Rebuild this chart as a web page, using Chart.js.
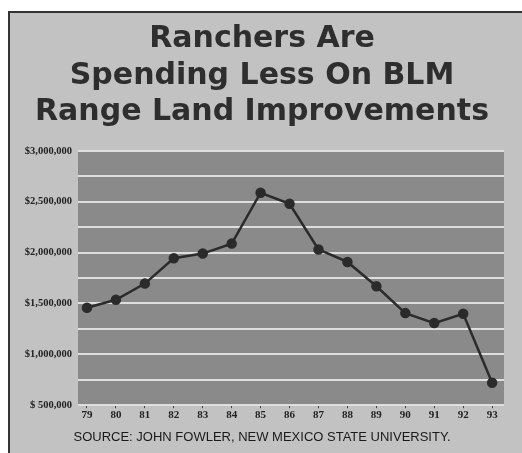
<!DOCTYPE html>
<html>
<head>
<meta charset="utf-8">
<script src="https://cdn.jsdelivr.net/npm/chart.js@4.4.1/dist/chart.umd.min.js"></script>
<style>
  html, body { margin: 0; padding: 0; background: #fff; }
  #wrap { position: relative; width: 522px; height: 453px; overflow: hidden; }
  #box { position: absolute; left: 8px; top: 11px; right: 0; bottom: 0;
         background: #c2c2c2; border-left: 2px solid #333; border-top: 2px solid #333; }
  #chart1 { position: absolute; left: 0; top: 0; }
</style>
</head>
<body>
<div id="wrap">
  <div id="box"></div>
  <canvas id="chart1" width="522" height="453"></canvas>
</div>
<script>
// fiscal years on the x axis
var years = [79, 80, 81, 82, 83, 84, 85, 86, 87, 88, 89, 90, 91, 92, 93];
// rancher spending on BLM range improvements, dollars
var spending = [1458000, 1536000, 1695000, 1944000, 1990000, 2088000, 2588000, 2480000,
                2030000, 1908000, 1669000, 1405000, 1307000, 1399000, 720000];
var titleLines = ['Ranchers Are', 'Spending Less On BLM', 'Range Land Improvements'];
var source = 'SOURCE: JOHN FOWLER, NEW MEXICO STATE UNIVERSITY.';

var points = years.map(function(y, i){ return {x: y, y: spending[i]}; });

// dark panel behind the plot
var plotBg = {
    id: 'plotBg',
    beforeDraw: function(chart){
        var a = chart.chartArea, c = chart.ctx;
        c.save();
        c.fillStyle = '#8a8a8a';
        c.fillRect(a.left, a.top, a.right - a.left, a.bottom - a.top);
        c.restore();
    }
};

function money(v){
    var s = v.toLocaleString('en-US');
    return v < 1000000 ? '$ ' + s : '$' + s;
}

var ctx = document.getElementById("chart1").getContext('2d');
var chart = new Chart(ctx, {
    type: 'line',
    data: {
        datasets: [{
            data: points,
            borderColor: '#2b2b2b',
            backgroundColor: '#2b2b2b',
            borderWidth: 2.5,
            pointRadius: 4,
            pointHoverRadius: 4,
            tension: 0,
            fill: false
        }]
    },
    plugins: [plotBg],
    options: {
        responsive: false,
        animation: false,
        layout: { padding: { left: 20, right: 18, top: 0, bottom: 4 } },
        scales: {
            x: {
                type: 'linear',
                min: 78.69,
                max: 93.41,
                afterBuildTicks: function(axis){
                    axis.ticks = years.map(function(y){ return {value: y}; });
                },
                grid: { drawOnChartArea: false, drawTicks: true, tickLength: 3, color: '#444' },
                border: { display: false },
                ticks: {
                    color: '#222',
                    padding: 0,
                    autoSkip: false,
                    maxRotation: 0,
                    font: { family: 'Liberation Serif', size: 11, weight: 'bold' },
                    callback: function(v){ return String(v); }
                }
            },
            y: {
                min: 500000,
                max: 3000000,
                afterFit: function(axis){ axis.width = 58; },
                grid: { color: '#dedede', lineWidth: 2, drawTicks: false },
                border: { display: false },
                ticks: {
                    stepSize: 250000,
                    color: '#222',
                    padding: 6,
                    font: { family: 'Liberation Serif', size: 10.5, weight: 'bold' },
                    callback: function(v){ return v % 500000 === 0 ? money(v) : ''; }
                }
            }
        },
        plugins: {
            legend: { display: false },
            tooltip: { enabled: false },
            title: {
                display: true,
                text: titleLines,
                color: '#2e2e2e',
                padding: { top: 21, bottom: 20 },
                font: { family: 'DejaVu Sans', size: 30, weight: 'bold', lineHeight: 1.22 }
            },
            subtitle: {
                display: true,
                position: 'bottom',
                text: source,
                color: '#1a1a1a',
                padding: { top: 8, bottom: 4 },
                font: { family: 'Liberation Sans', size: 13 }
            }
        }
    }
});
</script>
</body>
</html>
